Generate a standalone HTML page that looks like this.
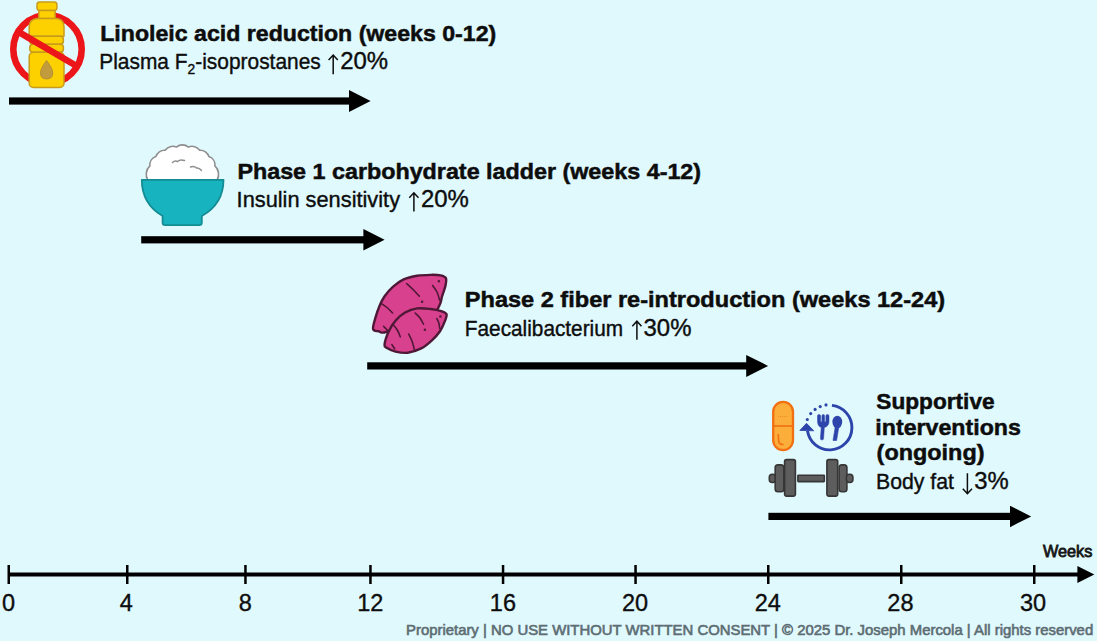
<!DOCTYPE html>
<html><head><meta charset="utf-8">
<style>
html,body{margin:0;padding:0;width:1097px;height:641px;overflow:hidden;background:#e0f9fd;}
svg{display:block;}
text{font-family:"Liberation Sans",sans-serif;}
.t{font-weight:bold;font-size:22.5px;fill:#0d0d0d;stroke:#0d0d0d;stroke-width:0.5px;}
.s{font-size:22.6px;fill:#0d0d0d;stroke:#0d0d0d;stroke-width:0.4px;}
.d{font-size:24px;fill:#0d0d0d;stroke:#0d0d0d;stroke-width:0.4px;}
.n{font-size:23.5px;fill:#0d0d0d;text-anchor:middle;stroke:#0d0d0d;stroke-width:0.35px;}
.w{font-size:16px;fill:#151515;stroke:#151515;stroke-width:0.8px;}
.f{font-size:14.5px;fill:#5d6d73;stroke:#5d6d73;stroke-width:0.6px;}
</style></head><body>
<svg width="1097" height="641" viewBox="0 0 1097 641">
<rect width="1097" height="641" fill="#e0f9fd"/>
<!-- ICON 1: bottle -->
<g id="bottle">
  <circle cx="47.5" cy="49.3" r="34.2" fill="none" stroke="#ec1519" stroke-width="6.6"/>
  <g fill="#fdd000" stroke="#c99b1a" stroke-width="1.5" stroke-linejoin="round">
    <rect x="37" y="1.9" width="19.9" height="8.5" rx="2.6"/>
    <rect x="38.8" y="10.4" width="16.3" height="8.2" rx="1.2"/>
    <path d="M37 18.6 L56.9 18.6 Q64 19.5 64 27 L64 36.2 L29.2 36.2 L29.2 27 Q29.2 19.5 37 18.6 Z"/>
    <rect x="29.8" y="36.2" width="33.6" height="8" rx="3.2"/>
    <rect x="29.8" y="44.2" width="33.6" height="8" rx="3.2"/>
    <rect x="29.2" y="52.2" width="34.8" height="35.2" rx="4.2"/>
  </g>
  <path d="M46.6 60.4 Q40.4 68.5 40.4 73 Q40.4 79 46.6 79 Q52.8 79 52.8 73 Q52.8 68.5 46.6 60.4 Z" fill="#c29b3c" stroke="#ad8a32" stroke-width="0.8"/>
  <line x1="17.2" y1="31.1" x2="77" y2="66.3" stroke="#ec1519" stroke-width="6.5"/>
</g>

<!-- ICON 2: rice bowl -->
<g id="bowl">
  <path d="M147.80 180.20 A11.52 11.52 0 0 1 149.89 165.96 A8.89 8.89 0 0 1 155.89 156.61 A8.95 8.95 0 0 1 165.10 150.25 A9.40 9.40 0 0 1 176.39 147.01 A9.61 9.61 0 0 1 188.41 147.01 A9.40 9.40 0 0 1 199.70 150.25 A8.95 8.95 0 0 1 208.91 156.61 A8.89 8.89 0 0 1 214.91 165.96 A11.52 11.52 0 0 1 217.00 180.20 Z" fill="#ffffff" stroke="#8e8e8e" stroke-width="1.6" stroke-linejoin="round"/>
  <path d="M172.5 162.5 Q175 160 177.5 161.5 Q180 159 184.5 160.5 M190.5 167 Q194 165.5 196.5 168 Q199 167.5 201.5 170.5" fill="none" stroke="#8e8e8e" stroke-width="1.5" stroke-linecap="round"/>
  <path d="M141.8 179.8 L223.5 179.8 Q223.5 204 201.8 216 L201.8 222.8 Q201.8 225.2 199.2 225.2 L165.2 225.2 Q162.6 225.2 162.6 222.8 L162.6 216 Q141.8 204 141.8 179.8 Z" fill="#17b4bf" stroke="#138c94" stroke-width="1.8" stroke-linejoin="round"/>
</g>

<!-- ICON 3: sweet potatoes -->
<g id="potato" stroke="#4e1836" stroke-width="2.4" fill="#d8418d" stroke-linejoin="round" stroke-linecap="round">
  <path d="M373.10 329.17 C372.51 326.98 374.22 322.05 375.30 318.14 C376.38 314.23 378.04 309.38 379.59 305.72 C381.13 302.07 382.38 299.38 384.59 296.24 C386.80 293.09 389.67 289.66 392.85 286.86 C396.02 284.07 399.59 281.31 403.63 279.46 C407.68 277.62 412.61 276.57 417.10 275.80 C421.60 275.02 426.69 274.91 430.62 274.83 C434.55 274.76 438.16 274.81 440.71 275.36 C443.25 275.91 445.10 276.47 445.90 278.14 C446.70 279.80 446.14 282.36 445.51 285.38 C444.88 288.39 443.14 292.87 442.11 296.25 C441.08 299.63 441.46 302.17 439.33 305.65 C437.19 309.14 438.01 312.80 429.30 317.15 C420.58 321.51 395.44 329.42 387.03 331.77 C378.62 334.13 381.15 331.71 378.83 331.28 C376.51 330.85 373.69 331.36 373.10 329.17 Z"/>
  <path d="M384.53 344.61 C384.83 341.82 386.94 335.25 388.80 331.23 C390.66 327.21 392.96 323.62 395.68 320.50 C398.40 317.39 401.51 314.53 405.11 312.52 C408.70 310.50 412.98 308.99 417.24 308.40 C421.50 307.81 426.68 308.52 430.67 308.96 C434.66 309.40 438.55 310.18 441.18 311.04 C443.82 311.89 445.80 312.52 446.47 314.09 C447.14 315.65 446.27 317.57 445.19 320.43 C444.11 323.29 442.25 327.89 440.00 331.24 C437.75 334.59 434.80 337.65 431.67 340.52 C428.53 343.38 425.17 346.39 421.19 348.42 C417.21 350.45 412.06 352.19 407.79 352.71 C403.51 353.24 399.00 352.36 395.53 351.58 C392.06 350.79 388.81 349.16 386.98 348.00 C385.14 346.84 384.23 347.41 384.53 344.61 Z"/>
  <g fill="none" stroke-width="1.6">
    <path d="M406.60 283.50 C407.75 284.58 411.38 287.90 413.50 290.00 C415.62 292.10 418.33 295.08 419.30 296.10"/>
    <path d="M432.60 285.50 C433.33 286.58 435.82 289.53 437.00 292.00 C438.18 294.47 439.25 298.92 439.70 300.30"/>
    <path d="M380.60 303.10 C381.67 303.83 385.00 305.85 387.00 307.50 C389.00 309.15 391.67 312.08 392.60 313.00"/>
    <path d="M383.50 326.30 C384.20 327.00 387.00 329.80 387.70 330.50"/>
    <path d="M415.10 313.00 C415.92 313.83 418.60 316.13 420.00 318.00 C421.40 319.87 422.92 323.17 423.50 324.20"/>
    <path d="M436.80 318.60 C437.13 319.33 438.32 321.37 438.80 323.00 C439.28 324.63 439.55 327.50 439.70 328.40"/>
    <path d="M392.60 324.20 C393.38 325.17 396.02 327.90 397.30 330.00 C398.58 332.10 399.80 335.67 400.30 336.80"/>
    <path d="M408.70 334.00 C409.25 335.17 411.05 338.42 412.00 341.00 C412.95 343.58 414.00 348.08 414.40 349.50"/>
    <path d="M391.90 344.60 C392.37 345.30 394.23 348.10 394.70 348.80"/>
    <circle cx="422.1" cy="301.7" r="0.5"/>
    <circle cx="438.9" cy="281.3" r="0.5"/>
    <circle cx="424.9" cy="329.8" r="0.5"/>
    <circle cx="440.4" cy="316.5" r="0.5"/>
  </g>
</g>

<!-- ICON 4: pill, plate cycle, dumbbell -->
<g id="supp">
  <rect x="773.2" y="401.8" width="19.8" height="48.4" rx="9.9" fill="#fbae3a" stroke="#f26f12" stroke-width="2.3"/>
  <line x1="773.2" y1="426" x2="793" y2="426" stroke="#f26f12" stroke-width="1.6"/>
  <path d="M778 416.5 L788 416.5" stroke="#f0902a" stroke-width="1" stroke-dasharray="1.2 0.8"/>
  <path d="M778.2 434.5 L778.8 442 Q779.5 444.5 783 444.5" fill="none" stroke="#f26f12" stroke-width="1.6" stroke-linecap="round"/>
  <path d="M831.93 405.42 A22.3 22.3 0 1 1 807.52 430.7" fill="none" stroke="#2d45ab" stroke-width="2.9"/>
  <path d="M799.8 430.4 L806.5 423.3 L813.8 430.8 Z" fill="#2d45ab" stroke="#2d45ab" stroke-width="0.8" stroke-linejoin="round"/>
  <g fill="#2d45ab">
    <circle cx="807.3" cy="419.5" r="1.55"/><circle cx="810.7" cy="413.6" r="1.55"/><circle cx="815.1" cy="409.4" r="1.55"/><circle cx="820.2" cy="406.6" r="1.55"/><circle cx="826" cy="404.9" r="1.55"/>
  </g>
  <path d="M817.5 416 Q817.5 414.6 819 414.6 Q820.6 414.6 820.6 416 L820.6 421.8 L821.9 421.8 L821.9 416 Q821.9 414.6 823.25 414.6 Q824.6 414.6 824.6 416 L824.6 421.8 L825.9 421.8 L825.9 416 Q825.9 414.6 827.45 414.6 Q829 414.6 829 416 L829 421.5 Q829 426.2 824.3 427.6 L823.6 438.6 Q823.5 440 822 440 Q820.4 440 820.4 438.6 L821.2 427.6 Q817.5 426.2 817.5 421.5 Z" fill="#2d45ab" stroke="#2d45ab" stroke-width="0.5" stroke-linejoin="round"/>
  <ellipse cx="837.3" cy="422" rx="4.9" ry="6.3" fill="#2d45ab"/>
  <path d="M835.2 427 L833 440.5 L836.6 440.5 L838.8 427 Z" fill="#2d45ab" stroke="#2d45ab" stroke-width="0.6" stroke-linejoin="round"/>
  <g fill="#5d5d5d" stroke="#363636" stroke-width="1.6" stroke-linejoin="round">
    <rect x="769.3" y="474.3" width="6.5" height="8.2" rx="3"/>
    <rect x="775.2" y="464.9" width="8.6" height="26.8" rx="2.8"/>
    <rect x="784.6" y="459.6" width="10.8" height="36.5" rx="2"/>
    <rect x="797.9" y="475.2" width="26.4" height="6.4" rx="0.5"/>
    <rect x="826.9" y="459.6" width="10.8" height="36.5" rx="2"/>
    <rect x="839.1" y="464.9" width="7.8" height="26.8" rx="2.8"/>
    <rect x="846.4" y="474.3" width="6.5" height="8.2" rx="3"/>
  </g>
</g>

<g fill="#000">
<rect x="9" y="97.4" width="341" height="7.2"/><path d="M349 90.0 L370.6 101 L349 112.0 Z"/>
<rect x="141.2" y="236.20000000000002" width="223.2" height="7.2"/><path d="M363.4 229.05 L384.6 239.8 L363.4 250.55 Z"/>
<rect x="367.2" y="362.29999999999995" width="380.00000000000006" height="7.2"/><path d="M746.2 354.9 L768.1 365.9 L746.2 376.9 Z"/>
<rect x="768.4" y="512.8" width="242.60000000000002" height="7.2"/><path d="M1010 505.65 L1031.2 516.4 L1010 527.15 Z"/>
</g>
<g fill="#0d0d0d" stroke="#0d0d0d" stroke-width="1.5" stroke-linecap="butt">
<path fill="none" d="M333.2 55.5 L333.2 74.2 M328.6 60 L333.2 55 L337.8 60"/><path fill="none" d="M413.9 193.3 L413.9 211.4 M409.3 197.8 L413.9 192.8 L418.5 197.8"/><path fill="none" d="M636.9 321.7 L636.9 339.8 M632.3 326.2 L636.9 321.2 L641.5 326.2"/><path fill="none" d="M967.4 473.2 L967.4 493.2 M962.8 488.7 L967.4 493.7 L972 488.7"/>
</g>
<g fill="#000">
<rect x="8" y="572.5" width="1072" height="4"/><path d="M1077.4 566 L1094.3 574.5 L1077.4 583 Z"/><rect x="7.5" y="565" width="2.5" height="19"/><rect x="126" y="565" width="2.5" height="19"/><rect x="244.2" y="565" width="2.5" height="19"/><rect x="369.2" y="565" width="2.5" height="19"/><rect x="501.8" y="565" width="2.5" height="19"/><rect x="634.3" y="565" width="2.5" height="19"/><rect x="767" y="565" width="2.5" height="19"/><rect x="900" y="565" width="2.5" height="19"/><rect x="1033" y="565" width="2.5" height="19"/>
</g>
<text id="t1" class="t" x="100.2" y="40.5" textLength="396.09" lengthAdjust="spacingAndGlyphs">Linoleic acid reduction (weeks 0-12)</text>
<text id="s1a" class="s" x="99.26" y="68.8" textLength="221.5" lengthAdjust="spacingAndGlyphs">Plasma F<tspan font-size="15" dy="5">2</tspan><tspan dy="-5">-isoprostanes</tspan></text>
<text id="s1b" class="d" x="340.15" y="69.2" textLength="47.9" lengthAdjust="spacingAndGlyphs">20%</text>
<text id="t2" class="t" x="237.4" y="178.8" textLength="463.7" lengthAdjust="spacingAndGlyphs">Phase 1 carbohydrate ladder (weeks 4-12)</text>
<text id="s2a" class="s" x="236.58" y="207.3" textLength="163.48" lengthAdjust="spacingAndGlyphs">Insulin sensitivity</text>
<text id="s2b" class="d" x="420.96" y="207.3" textLength="47.91" lengthAdjust="spacingAndGlyphs">20%</text>
<text id="t3" class="t" x="464.8" y="306.5" textLength="480.3" lengthAdjust="spacingAndGlyphs">Phase 2 fiber re-introduction (weeks 12-24)</text>
<text id="s3a" class="s" x="464.84" y="335.5" textLength="158.24" lengthAdjust="spacingAndGlyphs">Faecalibacterium</text>
<text id="s3b" class="d" x="643.56" y="335.7" textLength="47.9" lengthAdjust="spacingAndGlyphs">30%</text>
<text id="t4a" class="t" x="876.39" y="409" textLength="118.22" lengthAdjust="spacingAndGlyphs">Supportive</text>
<text id="t4b" class="t" x="875.39" y="434.6" textLength="145.52" lengthAdjust="spacingAndGlyphs">interventions</text>
<text id="t4c" class="t" x="876.6" y="460.2" textLength="107.88" lengthAdjust="spacingAndGlyphs">(ongoing)</text>
<text id="s4a" class="s" x="876.03" y="489.3" textLength="77.94" lengthAdjust="spacingAndGlyphs">Body fat</text>
<text id="s4b" class="d" x="974.33" y="489.3" textLength="34.45" lengthAdjust="spacingAndGlyphs">3%</text>
<text id="n0" class="n" x="8.6" y="611">0</text>
<text id="n4" class="n" x="126.4" y="611">4</text>
<text id="n8" class="n" x="245.4" y="611">8</text>
<text id="n12" class="n" x="370.2" y="611">12</text>
<text id="n16" class="n" x="502.9" y="611">16</text>
<text id="n20" class="n" x="635.0" y="611">20</text>
<text id="n24" class="n" x="767.8" y="611">24</text>
<text id="n28" class="n" x="900.4" y="611">28</text>
<text id="n30" class="n" x="1033.0" y="611">30</text>
<text id="wk" class="w" x="1042.96" y="557" textLength="49.35" lengthAdjust="spacingAndGlyphs">Weeks</text>
<text id="ft" class="f" x="406.01" y="634.7" textLength="687.16" lengthAdjust="spacingAndGlyphs">Proprietary | NO USE WITHOUT WRITTEN CONSENT | © 2025 Dr. Joseph Mercola | All rights reserved</text>
</svg>
</body></html>
